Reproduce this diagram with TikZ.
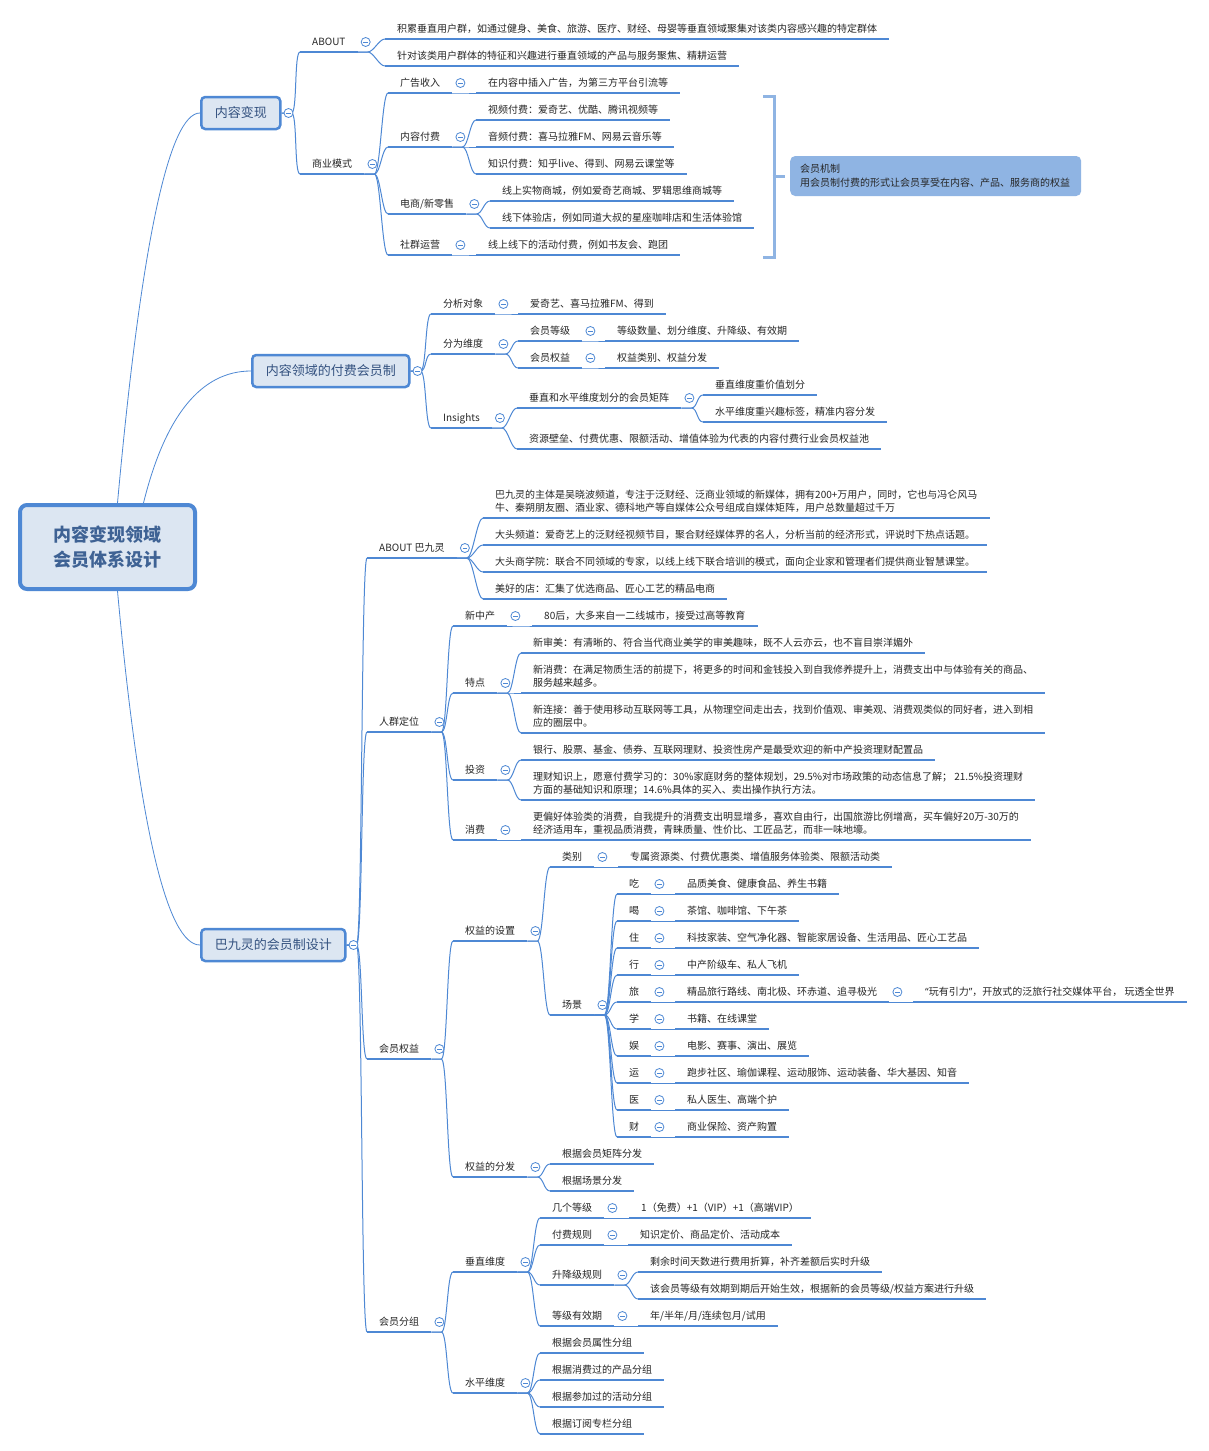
\documentclass[tikz,border=0pt]{standalone}
\usepackage{fontspec}
\setmainfont{Noto Sans CJK SC}
\newfontfamily\latinquote{Noto Sans}
\usepackage{xcolor}
\definecolor{lineblue}{RGB}{78,136,212}
\definecolor{boxfill}{RGB}{220,230,242}
\definecolor{boxtext}{RGB}{52,82,128}
\definecolor{roottext}{RGB}{62,98,148}
\definecolor{notefill}{RGB}{143,180,227}
\begin{document}
\begin{tikzpicture}[x=1pt,y=-1pt,
                    root/.style={draw=lineblue, line width=4pt, rounded corners=7pt, fill=boxfill,
                                 text=roottext, align=center, font=\fontsize{18}{25}\selectfont\bfseries,
                                 minimum width=175pt, minimum height=84pt},
                    main/.style={draw=lineblue, line width=2.5pt, rounded corners=4pt, fill=boxfill,
                                 text=boxtext, font=\fontsize{13}{16}\selectfont, inner xsep=13.5pt,
                                 minimum height=32pt, anchor=west},
                    tp/.style={anchor=south west, inner xsep=12pt, inner ysep=5pt, text height=8.5pt,
                               text depth=1.5pt, font=\fontsize{10}{13}\selectfont, text=black!85,
                               append after command={(\tikzlastnode.south west) edge[uline] (\tikzlastnode.south east)}},
                    tp2/.style={tp, text height=, text depth=, align=left},
                    uline/.style={draw=lineblue, line width=2.8pt},
                    link/.style={draw=lineblue, line width=1pt},
                    br/.style={link, to path={(\tikztostart) -- ++(10pt,0) .. controls +(6pt,0) and ([xshift=-6pt]\tikztotarget) .. (\tikztotarget)}},
                    fold/.style={circle, draw=lineblue, fill=white, line width=0.8pt, minimum size=9pt, inner sep=0pt,
                                 path picture={\draw[lineblue, line width=0.8pt] ([xshift=-2.4pt]path picture bounding box.center) -- ([xshift=2.4pt]path picture bounding box.center);}},
                    note/.style={anchor=west, fill=notefill, rounded corners=5pt, align=left, text width=271pt,
                                 inner xsep=10pt, inner ysep=6pt, minimum height=40pt,
                                 font=\fontsize{10}{14}\selectfont, text=black!85},
                    brk/.style={draw=notefill, line width=3pt}]
\fill[white] (0,0) rectangle (1208,1451);
\useasboundingbox (0,0) rectangle (1208,1451);

\node[root] (root) at (107.5,547) {内容变现领域\\会员体系设计};
\node[main] (bz) at (200,113) {内容变现};
\node[main] (ff) at (251,371) {内容领域的付费会员制};
\node[main] (bj) at (200,945) {巴九灵的会员制设计};
\draw[link, line width=0.8pt] ([xshift=10pt]root.north) .. controls (141,244) and (169,113) .. (bz.west);
\draw[link, line width=0.8pt] ([xshift=36pt]root.north) .. controls (165,416) and (201,371) .. (ff.west);
\draw[link, line width=0.8pt] ([xshift=10pt]root.south) .. controls (139,826) and (167,945) .. (bj.west);

\node[tp] (abt) at (300,52) {ABOUT};
\node[tp] (biz) at (300,174) {商业模式};
\node[tp] (abt1) at (385,39) {积累垂直用户群，如通过健身、美食、旅游、医疗、财经、母婴等垂直领域聚集对该类内容感兴趣的特定群体};
\node[tp] (abt2) at (385,66) {针对该类用户群体的特征和兴趣进行垂直领域的产品与服务聚焦、精耕运营};
\node[tp] (ad) at (388,93) {广告收入};
\node[tp] (ad1) at (476,93) {在内容中插入广告，为第三方平台引流等};
\node[tp] (pay) at (388,147) {内容付费};
\node[tp] (pay1) at (476,120) {视频付费：爱奇艺、优酷、腾讯视频等};
\node[tp] (pay2) at (476,147) {音频付费：喜马拉雅FM、网易云音乐等};
\node[tp] (pay3) at (476,174) {知识付费：知乎live、得到、网易云课堂等};
\node[tp] (shop) at (388,214) {电商/新零售};
\node[tp] (shop1) at (490,201) {线上实物商城，例如爱奇艺商城、罗辑思维商城等};
\node[tp] (shop2) at (490,228) {线下体验店，例如同道大叔的星座咖啡店和生活体验馆};
\node[tp] (club) at (388,255) {社群运营};
\node[tp] (club1) at (476,255) {线上线下的活动付费，例如书友会、跑团};
\node[note] (mech) at (790,176) {会员机制\\用会员制付费的形式让会员享受在内容、产品、服务商的权益};
\coordinate (brtop) at (763,96);
\coordinate (brbot) at (763,257);
\draw[brk] (brtop) -| ([xshift=-16pt]mech.west |- brbot) -- (brbot);
\draw[brk] ([xshift=-17.5pt]mech.west) -- ([xshift=-5pt]mech.west);

\node[tp] (obj) at (431,314) {分析对象};
\node[tp] (obj1) at (518,314) {爱奇艺、喜马拉雅FM、得到};
\node[tp] (dim) at (431,354) {分为维度};
\node[tp] (lvl) at (518,341) {会员等级};
\node[tp] (lvl1) at (605,341) {等级数量、划分维度、升降级、有效期};
\node[tp] (rgt) at (518,368) {会员权益};
\node[tp] (rgt1) at (605,368) {权益类别、权益分发};
\node[tp] (ins) at (431,428) {Insights};
\node[tp] (mtx) at (517,408) {垂直和水平维度划分的会员矩阵};
\node[tp] (mtx1) at (703,395) {垂直维度重价值划分};
\node[tp] (mtx2) at (703,422) {水平维度重兴趣标签，精准内容分发};
\node[tp] (pool) at (517,449) {资源壁垒、付费优惠、限额活动、增值体验为代表的内容付费行业会员权益池};

\node[tp] (abj) at (367,558) {ABOUT 巴九灵};
\node[tp2] (abj1) at (483,518) {巴九灵的主体是吴晓波频道，专注于泛财经、泛商业领域的新媒体，拥有200+万用户，同时，它也与冯仑风马\\牛、秦朔朋友圈、酒业家、德科地产等自媒体公众号组成自媒体矩阵，用户总数量超过千万};
\node[tp] (abj2) at (483,545) {大头频道：爱奇艺上的泛财经视频节目，聚合财经媒体界的名人，分析当前的经济形式，评说时下热点话题。};
\node[tp] (abj3) at (483,572) {大头商学院：联合不同领域的专家，以线上线下联合培训的模式，面向企业家和管理者们提供商业智慧课堂。};
\node[tp] (abj4) at (483,599) {美好的店：汇集了优选商品、匠心工艺的精品电商};
\node[tp] (crowd) at (367,732) {人群定位};
\node[tp] (mid) at (453,626) {新中产};
\node[tp] (mid1) at (532,626) {80后，大多来自一二线城市，接受过高等教育};
\node[tp] (feat) at (453,693) {特点};
\node[tp] (feat1) at (521,653) {新审美：有清晰的、符合当代商业美学的审美趣味，既不人云亦云，也不盲目崇洋媚外};
\node[tp2] (feat2) at (521,693) {新消费：在满足物质生活的前提下，将更多的时间和金钱投入到自我修养提升上，消费支出中与体验有关的商品、\\服务越来越多。};
\node[tp2] (feat3) at (521,733) {新连接：善于使用移动互联网等工具，从物理空间走出去，找到价值观、审美观、消费观类似的同好者，进入到相\\应的圈层中。};
\node[tp] (inv) at (453,780) {投资};
\node[tp] (inv1) at (521,760) {银行、股票、基金、债券、互联网理财、投资性房产是最受欢迎的新中产投资理财配置品};
\node[tp2] (inv2) at (521,800) {理财知识上，愿意付费学习的：30\%家庭财务的整体规划，29.5\%对市场政策的动态信息了解； 21.5\%投资理财\\方面的基础知识和原理；14.6\%具体的买入、卖出操作执行方法。};
\node[tp] (spend) at (453,840) {消费};
\node[tp2] (spend1) at (521,840) {更偏好体验类的消费，自我提升的消费支出明显增多，喜欢自由行，出国旅游比例增高，买车偏好20万-30万的\\经济适用车，重视品质消费，青睐质量、性价比、工匠品艺，而非一味地壕。};

\node[tp] (rights) at (367,1059) {会员权益};
\node[tp] (set) at (453,941) {权益的设置};
\node[tp] (cat) at (550,867) {类别};
\node[tp] (cat1) at (618,867) {专属资源类、付费优惠类、增值服务体验类、限额活动类};
\node[tp] (scene) at (550,1015) {场景};
\node[tp] (eat) at (617,894) {吃};
\node[tp] (eat1) at (675,894) {品质美食、健康食品、养生书籍};
\node[tp] (drink) at (617,921) {喝};
\node[tp] (drink1) at (675,921) {茶馆、咖啡馆、下午茶};
\node[tp] (home) at (617,948) {住};
\node[tp] (home1) at (675,948) {科技家装、空气净化器、智能家居设备、生活用品、匠心工艺品};
\node[tp] (ride) at (617,975) {行};
\node[tp] (ride1) at (675,975) {中产阶级车、私人飞机};
\node[tp] (trip) at (617,1002) {旅};
\node[tp] (trip1) at (675,1002) {精品旅行路线、南北极、环赤道、追寻极光};
\node[tp] (trip2) at (913,1002) {{\latinquote “}玩有引力{\latinquote ”}，开放式的泛旅行社交媒体平台， 玩透全世界};
\node[tp] (study) at (617,1029) {学};
\node[tp] (study1) at (675,1029) {书籍、在线课堂};
\node[tp] (fun) at (617,1056) {娱};
\node[tp] (fun1) at (675,1056) {电影、赛事、演出、展览};
\node[tp] (sport) at (617,1083) {运};
\node[tp] (sport1) at (675,1083) {跑步社区、瑜伽课程、运动服饰、运动装备、华大基因、知音};
\node[tp] (med) at (617,1110) {医};
\node[tp] (med1) at (675,1110) {私人医生、高端个护};
\node[tp] (fin) at (617,1137) {财};
\node[tp] (fin1) at (675,1137) {商业保险、资产购置};
\node[tp] (dist) at (453,1177) {权益的分发};
\node[tp] (dist1) at (550,1164) {根据会员矩阵分发};
\node[tp] (dist2) at (550,1191) {根据场景分发};

\node[tp] (grp) at (367,1332) {会员分组};
\node[tp] (vert) at (453,1272) {垂直维度};
\node[tp] (lv) at (540,1218) {几个等级};
\node[tp] (lv1) at (629,1218) {1（免费）+1（VIP）+1（高端VIP）};
\node[tp] (rule) at (540,1245) {付费规则};
\node[tp] (rule1) at (628,1245) {知识定价、商品定价、活动成本};
\node[tp] (upd) at (540,1285) {升降级规则};
\node[tp] (upd1) at (638,1272) {剩余时间天数进行费用折算，补齐差额后实时升级};
\node[tp] (upd2) at (638,1299) {该会员等级有效期到期后开始生效，根据新的会员等级/权益方案进行升级};
\node[tp] (term) at (540,1326) {等级有效期};
\node[tp] (term1) at (638,1326) {年/半年/月/连续包月/试用};
\node[tp] (hori) at (453,1393) {水平维度};
\node[tp] (h1) at (540,1353) {根据会员属性分组};
\node[tp] (h2) at (540,1380) {根据消费过的产品分组};
\node[tp] (h3) at (540,1407) {根据参加过的活动分组};
\node[tp] (h4) at (540,1434) {根据订阅专栏分组};

\path (bz.east) edge[br] (abt.south west) edge[br] (biz.south west);
\path (abt.south east) edge[br] (abt1.south west) edge[br] (abt2.south west);
\path (biz.south east) edge[br] (ad.south west) edge[br] (pay.south west) edge[br] (shop.south west) edge[br] (club.south west);
\path (ad.south east) edge[br] (ad1.south west);
\path (pay.south east) edge[br] (pay1.south west) edge[br] (pay2.south west) edge[br] (pay3.south west);
\path (shop.south east) edge[br] (shop1.south west) edge[br] (shop2.south west);
\path (club.south east) edge[br] (club1.south west);

\path (ff.east) edge[br] (obj.south west) edge[br] (dim.south west) edge[br] (ins.south west);
\path (obj.south east) edge[br] (obj1.south west);
\path (dim.south east) edge[br] (lvl.south west) edge[br] (rgt.south west);
\path (lvl.south east) edge[br] (lvl1.south west);
\path (rgt.south east) edge[br] (rgt1.south west);
\path (ins.south east) edge[br] (mtx.south west) edge[br] (pool.south west);
\path (mtx.south east) edge[br] (mtx1.south west) edge[br] (mtx2.south west);

\path (bj.east) edge[br] (abj.south west) edge[br] (crowd.south west) edge[br] (rights.south west) edge[br] (grp.south west);
\path (abj.south east) edge[br] (abj1.south west) edge[br] (abj2.south west) edge[br] (abj3.south west) edge[br] (abj4.south west);
\path (crowd.south east) edge[br] (mid.south west) edge[br] (feat.south west) edge[br] (inv.south west) edge[br] (spend.south west);
\path (mid.south east) edge[br] (mid1.south west);
\path (feat.south east) edge[br] (feat1.south west) edge[br] (feat2.south west) edge[br] (feat3.south west);
\path (inv.south east) edge[br] (inv1.south west) edge[br] (inv2.south west);
\path (spend.south east) edge[br] (spend1.south west);
\path (rights.south east) edge[br] (set.south west) edge[br] (dist.south west);
\path (set.south east) edge[br] (cat.south west) edge[br] (scene.south west);
\path (cat.south east) edge[br] (cat1.south west);
\path (scene.south east) edge[br] (eat.south west) edge[br] (drink.south west) edge[br] (home.south west)
      edge[br] (ride.south west) edge[br] (trip.south west) edge[br] (study.south west) edge[br] (fun.south west)
      edge[br] (sport.south west) edge[br] (med.south west) edge[br] (fin.south west);
\path (eat.south east) edge[br] (eat1.south west);
\path (drink.south east) edge[br] (drink1.south west);
\path (home.south east) edge[br] (home1.south west);
\path (ride.south east) edge[br] (ride1.south west);
\path (trip.south east) edge[br] (trip1.south west);
\path (trip1.south east) edge[br] (trip2.south west);
\path (study.south east) edge[br] (study1.south west);
\path (fun.south east) edge[br] (fun1.south west);
\path (sport.south east) edge[br] (sport1.south west);
\path (med.south east) edge[br] (med1.south west);
\path (fin.south east) edge[br] (fin1.south west);
\path (dist.south east) edge[br] (dist1.south west) edge[br] (dist2.south west);
\path (grp.south east) edge[br] (vert.south west) edge[br] (hori.south west);
\path (vert.south east) edge[br] (lv.south west) edge[br] (rule.south west) edge[br] (upd.south west) edge[br] (term.south west);
\path (lv.south east) edge[br] (lv1.south west);
\path (rule.south east) edge[br] (rule1.south west);
\path (upd.south east) edge[br] (upd1.south west) edge[br] (upd2.south west);
\path (term.south east) edge[br] (term1.south west);
\path (hori.south east) edge[br] (h1.south west) edge[br] (h2.south west) edge[br] (h3.south west) edge[br] (h4.south west);

\foreach \p in {bz,ff,bj}
  \node[fold] (\p-c) at ([xshift=7pt]\p.east) {};
\foreach \p in {abt,biz,ad,pay,shop,club,obj,dim,lvl,rgt,ins,mtx,abj,crowd,mid,feat,inv,spend,
                rights,set,cat,scene,eat,drink,home,ride,trip,trip1,study,fun,sport,med,fin,dist,
                grp,vert,lv,rule,upd,term,hori}
  \node[fold] (\p-c) at ([xshift=8pt,yshift=10pt]\p.south east) {};
\end{tikzpicture}
\end{document}
